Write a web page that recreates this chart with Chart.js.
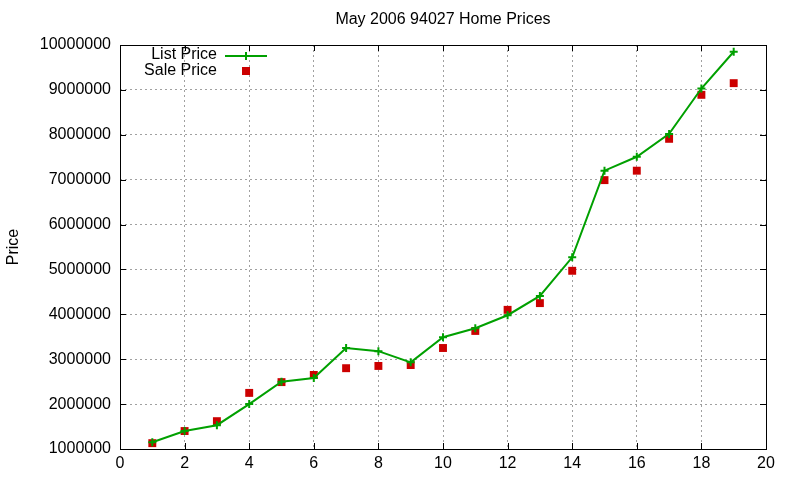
<!DOCTYPE html>
<html>
<head>
<meta charset="utf-8">
<script src="https://cdn.jsdelivr.net/npm/chart.js@4"></script>
<style>
  html, body { margin: 0; padding: 0; background: #fff; }
  #wrap { width: 800px; height: 480px; }
</style>
</head>
<body>
<div id="wrap"><canvas id="chart" width="800" height="480"></canvas></div>
<script>
const lots = [1, 2, 3, 4, 5, 6, 7, 8, 9, 10, 11, 12, 13, 14, 15, 16, 17, 18, 19];
const listPrice = [1150000, 1400000, 1530000, 2000000, 2500000, 2580000, 3250000, 3180000, 2930000,
  3490000, 3690000, 3980000, 4410000, 5270000, 7200000, 7510000, 8020000, 9030000, 9850000];
const salePrice = [1130000, 1400000, 1620000, 2250000, 2490000, 2650000, 2800000, 2850000, 2870000,
  3250000, 3630000, 4100000, 4250000, 4970000, 6990000, 7200000, 7910000, 8890000, 9150000];
const xTicks = [0, 2, 4, 6, 8, 10, 12, 14, 16, 18, 20];
const yTicks = [1000000, 2000000, 3000000, 4000000, 5000000, 6000000, 7000000, 8000000, 9000000, 10000000];
const titleText = "May 2006 94027 Home Prices";

const FONT = "'Liberation Sans', Arial, sans-serif";
const GREEN = "#00a000";
const RED = "#cc0000";

// gnuplot style frame: full border box plus inward ticks on all sides
const framePlugin = {
  id: "frame",
  afterDatasetsDraw(chart) {
    const { ctx, chartArea: a, scales } = chart;
    ctx.save();
    ctx.strokeStyle = "#000";
    ctx.lineWidth = 1;
    ctx.strokeRect(a.left + 0.5, a.top + 0.5, a.right - a.left, a.bottom - a.top);
    ctx.beginPath();
    const len = 6;
    xTicks.forEach(v => {
      const x = Math.round(scales.x.getPixelForValue(v)) + 0.5;
      ctx.moveTo(x, a.bottom); ctx.lineTo(x, a.bottom - len);
      ctx.moveTo(x, a.top); ctx.lineTo(x, a.top + len);
    });
    yTicks.forEach(v => {
      const y = Math.round(scales.y.getPixelForValue(v)) + 0.5;
      ctx.moveTo(a.left, y); ctx.lineTo(a.left + len, y);
      ctx.moveTo(a.right, y); ctx.lineTo(a.right - len, y);
    });
    ctx.stroke();
    ctx.restore();
  }
};

// title centred over the plot area, and the key in the top left corner
const keyPlugin = {
  id: "key",
  afterDraw(chart) {
    const { ctx, chartArea: a } = chart;
    ctx.save();
    ctx.font = "16px " + FONT;
    ctx.fillStyle = "#000";
    ctx.textBaseline = "middle";
    ctx.textAlign = "center";
    ctx.fillText(titleText, (a.left + a.right) / 2, 20);

    ctx.textAlign = "right";
    ctx.fillText("List Price", 217, 55);
    ctx.fillText("Sale Price", 217, 71);

    ctx.strokeStyle = GREEN;
    ctx.lineWidth = 2;
    ctx.beginPath();
    ctx.moveTo(225, 56); ctx.lineTo(267, 56);
    ctx.moveTo(246, 52); ctx.lineTo(246, 60);
    ctx.stroke();

    ctx.fillStyle = RED;
    ctx.fillRect(242, 67, 8, 8);
    ctx.restore();
  }
};

new Chart(document.getElementById("chart"), {
  type: "line",
  data: {
    labels: lots,
    datasets: [
      {
        label: "List Price",
        data: lots.map((x, i) => ({ x, y: listPrice[i] })),
        borderColor: GREEN,
        backgroundColor: GREEN,
        borderWidth: 2,
        pointStyle: "cross",
        pointRadius: 4,
        pointBorderWidth: 2,
        tension: 0,
        order: 1
      },
      {
        label: "Sale Price",
        data: lots.map((x, i) => ({ x, y: salePrice[i] })),
        showLine: false,
        borderColor: RED,
        backgroundColor: RED,
        pointStyle: "rect",
        pointRadius: 5.6,
        pointBorderWidth: 0,
        order: 2
      }
    ]
  },
  options: {
    responsive: false,
    animation: false,
    layout: { padding: { left: 0, right: 34, top: 45, bottom: 0 } },
    plugins: {
      legend: { display: false },
      tooltip: { enabled: false },
      title: { display: false }
    },
    scales: {
      x: {
        type: "linear",
        min: 0,
        max: 20,
        afterBuildTicks: s => { s.ticks = xTicks.map(v => ({ value: v })); },
        afterFit: s => { s.height = 31; },
        ticks: { color: "#000", font: { family: FONT, size: 16 }, padding: 5, maxRotation: 0 },
        grid: { color: "#a0a0a0", lineWidth: 1, drawTicks: false },
        border: { display: false, dash: [2, 3] }
      },
      y: {
        min: 1000000,
        max: 10000000,
        afterBuildTicks: s => { s.ticks = yTicks.map(v => ({ value: v })); },
        afterFit: s => { s.width = 120; },
        ticks: { color: "#000", font: { family: FONT, size: 16 }, padding: 9, callback: v => String(v) },
        grid: { color: "#a0a0a0", lineWidth: 1, drawTicks: false },
        border: { display: false, dash: [2, 3] },
        title: {
          display: true,
          text: "Price",
          color: "#000",
          font: { family: FONT, size: 16 },
          padding: { top: 4, bottom: 0 }
        }
      }
    }
  },
  plugins: [framePlugin, keyPlugin]
});
</script>
</body>
</html>
